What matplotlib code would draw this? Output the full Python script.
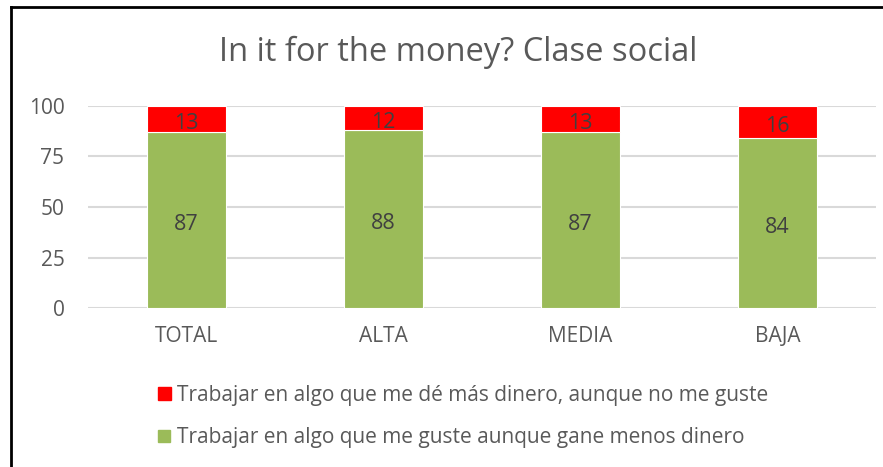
import matplotlib.pyplot as plt
from matplotlib.patches import Rectangle

plt.rcParams['font.family'] = ['Open Sans', 'DejaVu Sans']

categories = ['TOTAL', 'ALTA', 'MEDIA', 'BAJA']
gusta = [87, 88, 87, 84]
dinero = [13, 12, 13, 16]
label_dinero = 'Trabajar en algo que me dé más dinero, aunque no me guste'
label_gusta = 'Trabajar en algo que me guste aunque gane menos dinero'

GREEN = '#9bbb59'
RED = '#ff0000'
GRAY = '#595959'
DARK = '#404040'

fig = plt.figure(figsize=(8.83, 4.67), dpi=100)
ax = fig.add_axes([88 / 883, 1 - 308 / 467, (876 - 88) / 883, (308 - 106) / 467])

x = range(len(categories))
b1 = ax.bar(x, gusta, width=0.4, color=GREEN, edgecolor='white', linewidth=0.8, zorder=3)
b2 = ax.bar(x, dinero, bottom=gusta, width=0.4, color=RED, edgecolor='white', linewidth=0.8, zorder=3)
for bars in (b1, b2):
    for t in ax.bar_label(bars, label_type='center', fontsize=15.5, color=DARK):
        t.xyann = (0, -3)  # nudge numbers slightly below the segment middle

ax.set_xlim(-0.5, len(categories) - 0.5)
ax.set_ylim(0, 100)
ax.set_yticks([0, 25, 50, 75, 100])
ax.set_xticks(list(x))
ax.set_xticklabels(categories)
ax.tick_params(axis='both', length=0, labelsize=15, colors=GRAY)
ax.tick_params(axis='y', pad=17)
ax.tick_params(axis='x', pad=13)
ax.grid(axis='y', color='#d9d9d9', linewidth=1.5, zorder=0)
for s in ax.spines.values():
    s.set_visible(False)

fig.text(458 / 883, 1 - 52 / 467, 'In it for the money? Clase social',
         ha='center', va='center', fontsize=23.5, color=GRAY)

# legend drawn by hand: two rows, square swatch + text
for (y, col, txt, sz) in [(393, RED, label_dinero, 13), (436, GREEN, label_gusta, 12)]:
    fig.patches.append(Rectangle(((164 - sz / 2) / 883, 1 - (y + sz / 2) / 467), sz / 883, sz / 467,
                                 transform=fig.transFigure, color=col))
    fig.text(177 / 883, 1 - (y + 2) / 467, txt, ha='left', va='center', fontsize=15, color=GRAY)

# chart frame (left and top edges only are visible)
fig.add_artist(plt.Line2D([11 / 883, 11 / 883], [0, 1 - 7 / 467], color='black', linewidth=2,
                          transform=fig.transFigure))
fig.add_artist(plt.Line2D([11 / 883, 1], [1 - 7 / 467, 1 - 7 / 467], color='black', linewidth=2,
                          transform=fig.transFigure))

fig.savefig('out.png', dpi=100, facecolor='white')
